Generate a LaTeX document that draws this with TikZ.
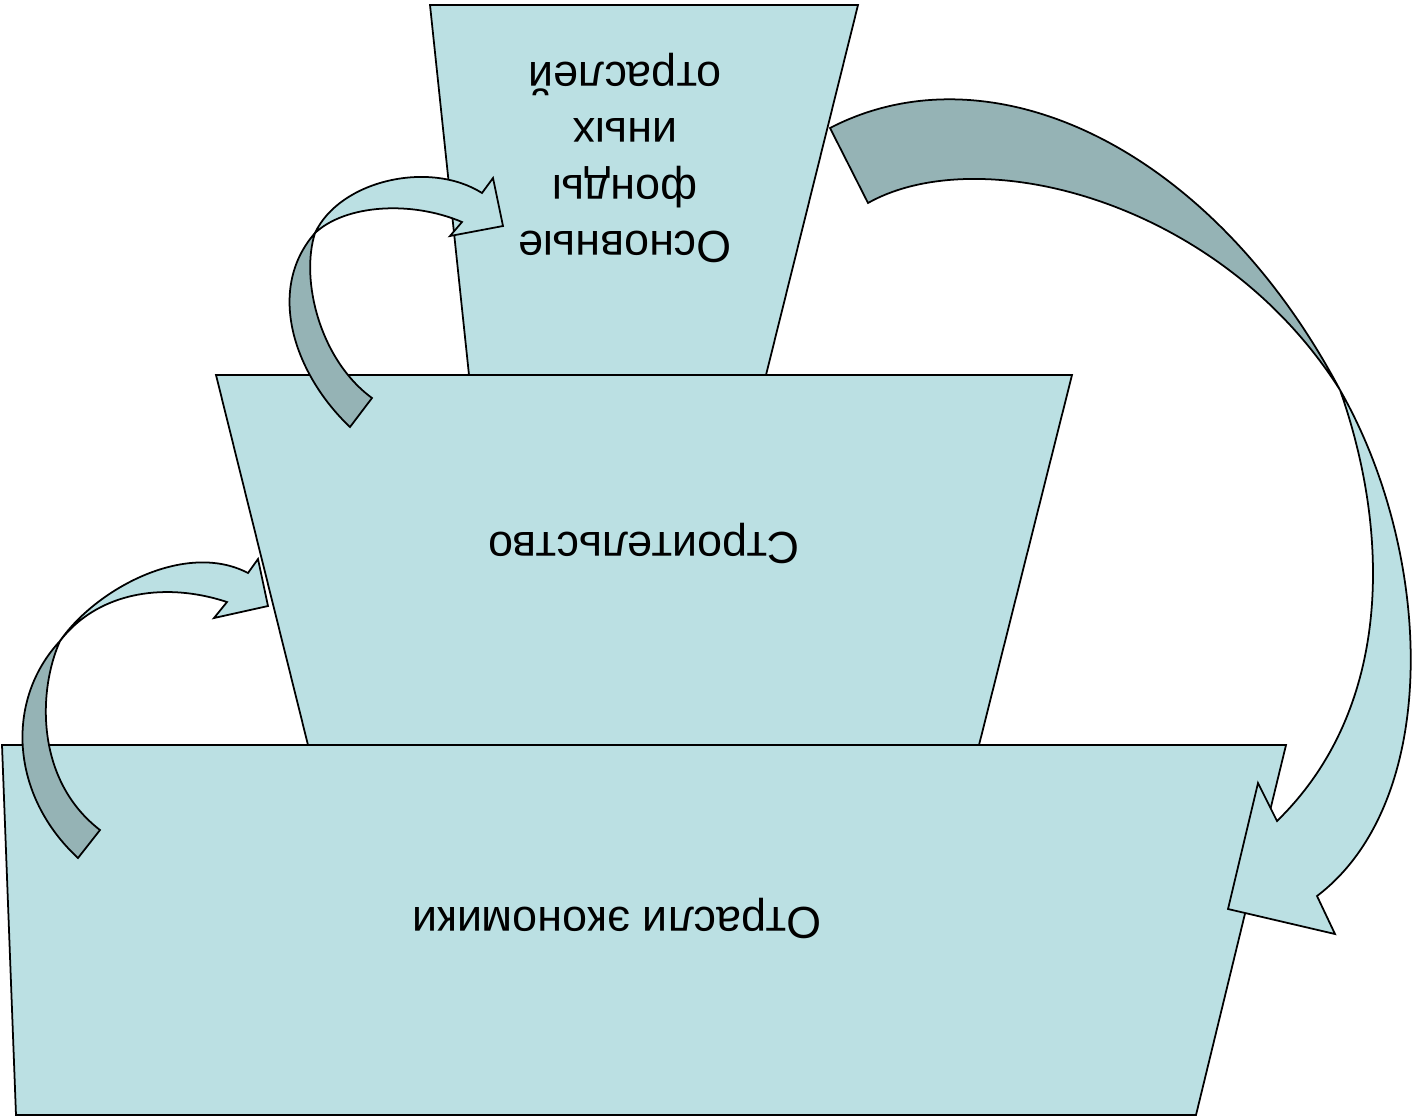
\documentclass[tikz,border=0pt]{standalone}
\usepackage{fontspec}
\setmainfont{Liberation Sans}
\begin{document}
\begin{tikzpicture}[x=0.02cm, y=-0.02cm, line width=1pt, line join=miter,
	lvl/.style={draw=black, fill=paleblue},
	back/.style={draw=black, fill=greyblue},
	front/.style={draw=black, fill=paleblue},
	lbl/.style={rotate=180, align=center, font=\fontsize{25.5}{31.9}\selectfont}]
	\definecolor{paleblue}{RGB}{187, 224, 227}
	\definecolor{greyblue}{RGB}{149, 179, 181}
	\useasboundingbox (0,0) rectangle (1412,1117);
	
	% 三层梯形
	\draw[lvl] (430,5) -- (858,5) -- (766,375) -- (469,375) -- cycle;
	\draw[lvl] (216,375) -- (1072,375) -- (979,745) -- (308,745) -- cycle;
	\draw[lvl] (2,745) -- (1286,745) -- (1196,1115) -- (16,1115) -- cycle;
	
	% 文字（倒置）
	\node[lbl] (funds) at (625,158) {Основные\\фонды\\иных\\отраслей};
	\node[lbl] (build) at (644,543) {Строительство};
	\node[lbl] (econ) at (617,918) {Отрасли экономики};
	
	% 左下弯箭头
	\draw[back] (78,858) .. controls (10,795) and (5,700) .. (60,641)
		.. controls (38,690) and (35,780) .. (100,830) -- cycle;
	\draw[front] (60,641) .. controls (95,590) and (185,540) .. (248,573)
		-- (258,559) -- (268,606) -- (214,618) -- (227,602)
		.. controls (160,580) and (95,595) .. (60,641) -- cycle;
	
	% 中间弯箭头
	\draw[back] (350,427) .. controls (295,375) and (265,290) .. (315,233)
		.. controls (300,280) and (320,360) .. (372,398) -- cycle;
	\draw[front] (315,233) .. controls (340,180) and (430,160) .. (482,193)
		-- (493,178) -- (503,226) -- (450,236) -- (462,222)
		.. controls (410,200) and (345,205) .. (315,233) -- cycle;
	
	% 右侧大弯箭头
	\draw[back] (830,128) .. controls (990,45) and (1210,145) .. (1340,390)
		.. controls (1220,200) and (980,140) .. (868,203) -- cycle;
	\draw[front] (1340,390) .. controls (1434,555) and (1442,801) .. (1317,896)
		-- (1335,934) -- (1228,909) -- (1258,783) -- (1277,821)
		.. controls (1392,709) and (1391,535) .. (1340,390) -- cycle;
\end{tikzpicture}
\end{document}
